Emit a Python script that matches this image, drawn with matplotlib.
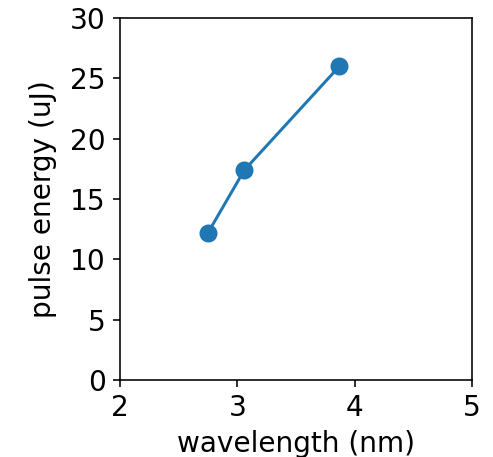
import numpy as np
from matplotlib import pyplot as plt

wavelength = [2.75, 3.06, 3.87]
pulse_energy = [12.2, 17.4, 26.0]

plt.rcParams['font.size'] = 14

fig = plt.figure(figsize=(493/144, 457/144), dpi=144)
ax = fig.add_axes([0.2434, 0.1685, 0.714, 0.7921])
ax.plot(wavelength, pulse_energy, marker='o', markersize=8, color='#1f77b4')
ax.set_xlim(2, 5)
ax.set_ylim(0, 30)
ax.set_xticks([2, 3, 4, 5])
ax.set_yticks(range(0, 31, 5))
ax.set_xlabel('wavelength (nm)')
ax.set_ylabel('pulse energy (uJ)', labelpad=6.5)

fig.savefig('out.png', dpi=144)
